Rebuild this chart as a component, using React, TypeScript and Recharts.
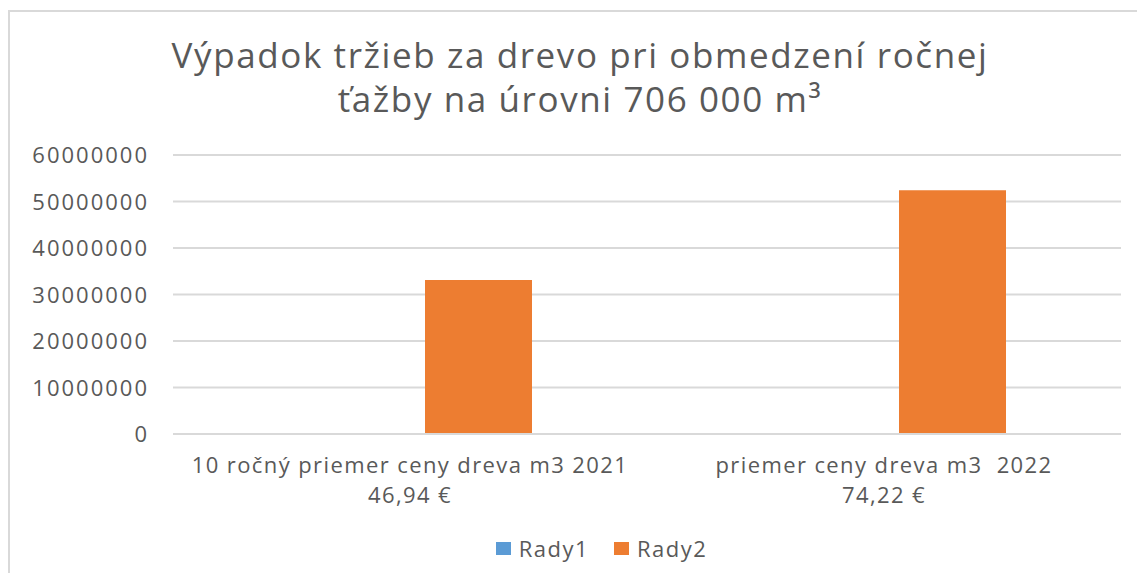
import { BarChart, Bar, XAxis, YAxis, CartesianGrid, Legend } from 'recharts'

const categories = ['10 ročný priemer ceny dreva m3 2021', 'priemer ceny dreva m3  2022']
const priceLabels = ['46,94 €', '74,22 €']
const rady1: (number | null)[] = [null, null]
const rady2 = [33140000, 52400000]
const yTicks = [0, 10000000, 20000000, 30000000, 40000000, 50000000, 60000000]
const titleLines = ['Výpadok tržieb za drevo pri obmedzení  ročnej', 'ťažby na úrovni 706 000 m³']

const data = categories.map((name, i) => ({
  name,
  price: priceLabels[i],
  Rady1: rady1[i],
  Rady2: rady2[i],
}))

const FONT = '"Open Sans", "Noto Sans", sans-serif'
const TEXT = '#595959'

const XTick = (props: any) => {
  const { x, y, payload, index } = props
  return (
    <text x={x} textAnchor="middle" fontFamily={FONT} fontSize={22} letterSpacing={1.4} fill={TEXT}>
      <tspan x={x} y={y + 39}>{payload.value.replace('  ', ' \u00a0')}</tspan>
      <tspan x={x} y={y + 69}>{priceLabels[index]}</tspan>
    </text>
  )
}

const YTick = (props: any) => {
  const { y, payload } = props
  return (
    <text x={149} y={y + 8} textAnchor="end" fontFamily={FONT} fontSize={22} letterSpacing={2} fill={TEXT}>
      {payload.value}
    </text>
  )
}

const LegendContent = () => (
  <div style={{ display: 'flex', justifyContent: 'center', gap: 25, fontFamily: FONT, fontSize: 22, letterSpacing: 1.5, color: TEXT, paddingLeft: 82 }}>
    {[
      { name: 'Rady1', color: '#5B9BD5' },
      { name: 'Rady2', color: '#ED7D31' },
    ].map((item) => (
      <div key={item.name} style={{ display: 'flex', alignItems: 'center', gap: 8 }}>
        <div style={{ width: 15, height: 13, background: item.color }} />
        <span>{item.name}</span>
      </div>
    ))}
  </div>
)

export default function App() {
  return (
    <div style={{ position: 'relative', width: 1145, height: 581, margin: -8, overflow: 'hidden', background: '#fff' }}>
      <div
        style={{
          position: 'absolute',
          left: 8,
          top: 10,
          width: 1160,
          height: 600,
          border: '2px solid #d9d9d9',
          boxSizing: 'border-box',
        }}
      />
      <div
        style={{
          position: 'absolute',
          left: 0,
          top: 33,
          width: 1160,
          textAlign: 'center',
          fontFamily: FONT,
          fontSize: 35,
          letterSpacing: 1.6,
          lineHeight: '44px',
          color: TEXT,
        }}
      >
        <div>{titleLines[0]}</div>
        <div>{titleLines[1]}</div>
      </div>
      <div style={{ position: 'absolute', left: 0, top: 0 }}>
        <BarChart
          width={1145}
          height={581}
          data={data}
          margin={{ top: 155, right: 24, left: 0, bottom: 37 }}
          barSize={107}
          barGap={29}
        >
          <CartesianGrid vertical={false} stroke="#d9d9d9" strokeWidth={2} />
          <XAxis
            dataKey="name"
            height={80}
            axisLine={{ stroke: '#d9d9d9', strokeWidth: 2 }}
            tickLine={false}
            tickSize={0}
            tickMargin={0}
            tick={<XTick />}
            interval={0}
          />
          <YAxis
            width={173}
            domain={[0, 60000000]}
            ticks={yTicks}
            axisLine={false}
            tickLine={false}
            tick={<YTick />}
          />
          <Legend
            verticalAlign="bottom"
            height={20}
            content={<LegendContent />}
            wrapperStyle={{ top: 533, bottom: 'auto', height: 30 }}
          />
          <Bar dataKey="Rady1" fill="#5B9BD5" isAnimationActive={false} />
          <Bar dataKey="Rady2" fill="#ED7D31" isAnimationActive={false} />
        </BarChart>
      </div>
    </div>
  )
}
